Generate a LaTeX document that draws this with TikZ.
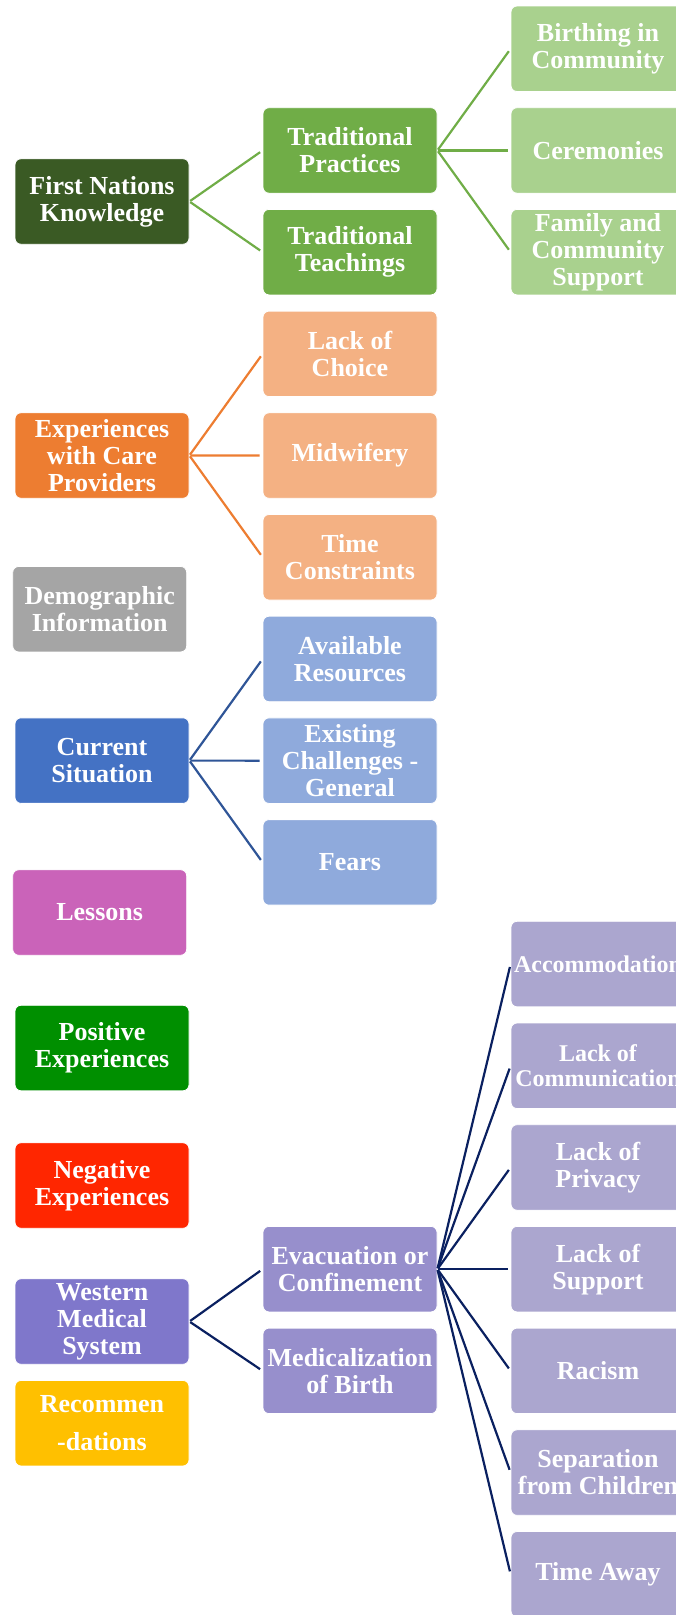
\documentclass[tikz,border=0pt]{standalone}
\usepackage{fontspec}
\setmainfont{Liberation Serif}
\definecolor{fnkdark}{HTML}{3A5A24}
\definecolor{fnkmid}{HTML}{70AD47}
\definecolor{fnklight}{HTML}{A9D18E}
\definecolor{expdark}{HTML}{ED7D31}
\definecolor{explight}{HTML}{F4B183}
\definecolor{demogrey}{HTML}{A5A5A5}
\definecolor{curdark}{HTML}{4472C4}
\definecolor{curlight}{HTML}{8FAADC}
\definecolor{curline}{HTML}{2F5597}
\definecolor{lessonpink}{HTML}{CA63B9}
\definecolor{posgreen}{HTML}{008F00}
\definecolor{negred}{HTML}{FF2600}
\definecolor{wmsdark}{HTML}{7F77CB}
\definecolor{wmsmid}{HTML}{978FCC}
\definecolor{wmslight}{HTML}{ABA6CF}
\definecolor{wmsline}{HTML}{0A2060}
\definecolor{recyellow}{HTML}{FFC000}
\newcommand{\rowy}[1]{48.75+101.7*#1}
\begin{document}
\begin{tikzpicture}[x=1pt,y=-1pt,
    box/.style={rectangle,rounded corners=6pt,minimum width=174pt,
      minimum height=85.5pt,inner sep=0pt,align=center,text=white,
      draw=white,line width=.8pt,font=\bfseries\fontsize{26}{27}\selectfont},
    boxsm/.style={box,font=\bfseries\fontsize{24}{24.3}\selectfont},
    link/.style={line width=2.2pt,shorten <=1pt,shorten >=3pt}]
  \clip (0,0) rectangle (676,1615);

  % left column
  \node[box,fill=fnkdark] (fnk) at (102,201.5) {First Nations\\Knowledge};
  \node[box,fill=expdark] (exp) at (102,455.5) {Experiences\\with Care\\Providers};
  \node[box,fill=demogrey] (demo) at (99.7,609.2) {Demographic\\Information};
  \node[box,fill=curdark] (cur) at (102,760.6) {Current\\Situation};
  \node[box,fill=lessonpink] (les) at (99.7,912.5) {Lessons};
  \node[box,fill=posgreen] (pos) at (102,1048) {Positive\\Experiences};
  \node[box,fill=negred] (neg) at (102,1185.5) {Negative\\Experiences};
  \node[box,fill=wmsdark] (wms) at (102,1321.5) {Western\\Medical\\System};
  \node[box,fill=recyellow,font=\bfseries\fontsize{26}{37.7}\selectfont] (rec)
    at (102,1423.2) {Recommen\\-dations};

  % middle column
  \node[box,fill=fnkmid] (tp) at (350,{\rowy{1}}) {Traditional\\Practices};
  \node[box,fill=fnkmid] (tt) at (350,{\rowy{2}}) {Traditional\\Teachings};
  \foreach \t [count=\k from 3] in {{Lack of\\Choice},Midwifery,{Time\\Constraints}}
    \node[box,fill=explight] (ep\k) at (350,{\rowy{\k}}) {\t};
  \foreach \t [count=\k from 6] in {{Available\\Resources},{Existing\\Challenges -\\General},Fears}
    \node[box,fill=curlight] (cs\k) at (350,{\rowy{\k}}) {\t};
  \node[box,fill=wmsmid] (evc) at (350,{\rowy{12}}) {Evacuation or\\Confinement};
  \node[box,fill=wmsmid] (med) at (350,{\rowy{13}}) {Medicalization\\of Birth};

  % right column
  \foreach \t [count=\k from 0] in {{Birthing in\\Community},Ceremonies,{Family and\\Community\\Support}}
    \node[box,fill=fnklight] (pr\k) at (598,{\rowy{\k}}) {\t};
  \foreach \t/\st [count=\k from 9] in {Accommodation/boxsm,{Lack of\\Communication}/boxsm,
      {Lack of\\Privacy}/box,{Lack of\\Support}/box,Racism/box,
      {Separation\\from Children}/box,{Time Away}/box}
    \node[\st,fill=wmslight] (ev\k) at (598,{\rowy{\k}}) {\t};

  % connectors
  \draw[link,fnkmid] (fnk.east) -- (tp.west);
  \draw[link,fnkmid] (fnk.east) -- (tt.west);
  \foreach \k in {0,1,2}
    \draw[link,fnkmid] (tp.east) -- (pr\k.west);
  \foreach \k in {3,4,5}
    \draw[link,expdark] (exp.east) -- (ep\k.west);
  \foreach \k in {6,7,8}
    \draw[link,curline] (cur.east) -- (cs\k.west);
  \draw[link,wmsline] (wms.east) -- (evc.west);
  \draw[link,wmsline] (wms.east) -- (med.west);
  \foreach \k in {9,...,15}
    \draw[link,wmsline] (evc.east) -- (ev\k.west);
\end{tikzpicture}
\end{document}
